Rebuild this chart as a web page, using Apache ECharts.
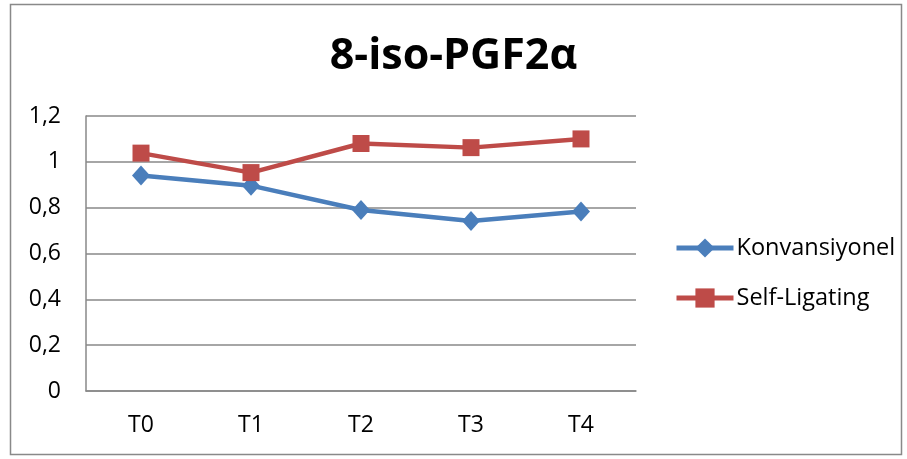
<!DOCTYPE html>
<html><head><meta charset="utf-8">
<script src="https://cdn.jsdelivr.net/npm/echarts@6/dist/echarts.min.js"></script>
<style>html,body{margin:0;padding:0;background:#fff}#c{width:907px;height:459px}</style>
</head><body><div id="c"></div>
<script>
const categories = ['T0','T1','T2','T3','T4'];
const konvansiyonel = [0.94, 0.896, 0.79, 0.742, 0.783];
const selfLigating = [1.038, 0.953, 1.08, 1.062, 1.1];
const seriesNames = ['Konvansiyonel','Self-Ligating'];
const titleText = '8-iso-PGF2α';

const font = '"Open Sans", "Noto Sans", sans-serif';
const chart = echarts.init(document.getElementById('c'));
chart.setOption({
  animation: false,
  backgroundColor: '#fff',
  graphic: [{type:'rect', shape:{x:10.5,y:4.5,width:891,height:450}, style:{fill:'none', stroke:'#898989', lineWidth:1.5}}],
  title: {text: titleText, left: 'center', top: 30, textStyle:{fontFamily: font, fontWeight:'bold', fontSize:43, color:'#000'}},
  grid: {left: 86, top: 116, width: 550, height: 275, containLabel: false},
  legend: {
    orient:'vertical', left: 669, top: 231, itemWidth: 57, itemHeight: 24, itemGap: 26,
    lineStyle:{width:5},
    textStyle:{fontFamily: font, fontSize:23.5, color:'#000', padding:[0,0,0,-2]},
    data: seriesNames
  },
  xAxis: {
    type:'category', data: categories, boundaryGap: true,
    axisLine:{lineStyle:{color:'#888', width:1.5}},
    axisTick:{show:false},
    axisLabel:{fontFamily: font, fontSize:23, color:'#000', margin:23}
  },
  yAxis: {
    type:'value', min:0, max:1.2, interval:0.2,
    axisLine:{show:true, lineStyle:{color:'#888', width:1.5}},
    axisTick:{show:false},
    splitLine:{lineStyle:{color:'#888', width:1.5}},
    axisLabel:{fontFamily: font, fontSize:23, color:'#000', margin:25,
      formatter: v => (Math.round(v*10)/10).toString().replace('.', ',')}
  },
  series: [
    {name: seriesNames[0], type:'line', data: konvansiyonel, symbol:'diamond', symbolSize:[18,20],
     lineStyle:{color:'#4A7EBB', width:4.5}, itemStyle:{color:'#4A7EBB'}},
    {name: seriesNames[1], type:'line', data: selfLigating, symbol:'rect', symbolSize:17,
     lineStyle:{color:'#BE4B48', width:4.5}, itemStyle:{color:'#BE4B48'}}
  ]
});
</script></body></html>
